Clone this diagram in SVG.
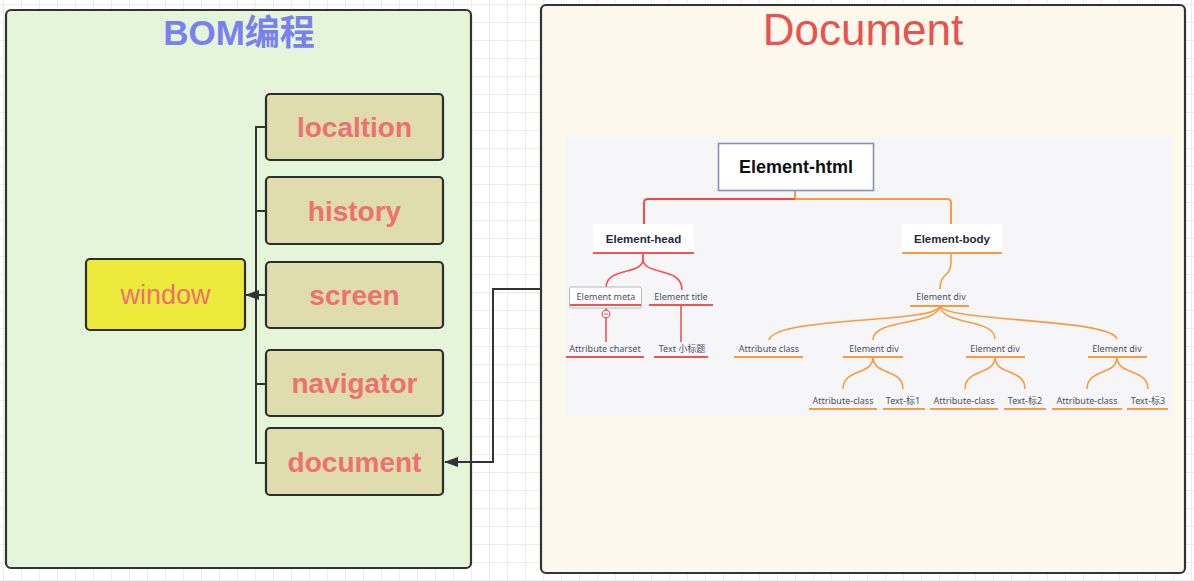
<svg xmlns="http://www.w3.org/2000/svg" width="1194" height="581" viewBox="0 0 1194 581">
<defs>
  <pattern id="grid" x="3" y="4" width="18" height="18" patternUnits="userSpaceOnUse">
    <path d="M0,0.5 H18 M0.5,0 V18" fill="none" stroke="#ececec" stroke-width="1.2"/>
  </pattern>
  <marker id="arr" markerWidth="14" markerHeight="10" refX="13" refY="5" orient="auto" markerUnits="userSpaceOnUse">
    <path d="M0,0 L14,5 L0,10 Z" fill="#333"/>
  </marker>
  <style>
    .panel{stroke:#333;stroke-width:2.2}
    .box{fill:#dfdcae;stroke:#2e2e2e;stroke-width:2.2}
    .lbl{font-family:"Liberation Sans",Arial,sans-serif;font-weight:bold;font-size:28px;fill:#ef7070;text-anchor:middle}
    .conn{fill:none;stroke:#333;stroke-width:2}
    .red{fill:none;stroke:#f25353;stroke-width:1.6}
    .org{fill:none;stroke:#fb9a3c;stroke-width:1.6}
    .mt{font-family:"Noto Sans","Liberation Sans","Noto Sans CJK SC",sans-serif;font-size:9px;fill:#4a4f63;text-anchor:middle}
    .mb{font-family:"Liberation Sans",Arial,sans-serif;font-weight:bold;font-size:11.5px;fill:#1f2740;text-anchor:middle}
    .ur{stroke:#f25353;stroke-width:1.8}
    .uo{stroke:#fb9a3c;stroke-width:1.8}
  </style>
</defs>
<rect width="1194" height="581" fill="#ffffff"/>
<rect width="1194" height="581" fill="url(#grid)"/>

<g id="bom-panel">
  <rect class="panel" x="6" y="10" width="465" height="558" rx="5" fill="#e4f5da"/>
  <text x="239" y="45" font-family="Liberation Sans,'Noto Sans CJK SC',sans-serif" font-weight="bold" font-size="35" fill="#7b80ef" text-anchor="middle">BOM编程</text>
</g>

<g id="document-panel">
  <rect class="panel" x="541" y="5" width="644" height="568" rx="5" fill="#fcf8eb"/>
  <text x="863" y="45" font-family="Liberation Sans,Arial,sans-serif" font-size="44" fill="#ea5250" text-anchor="middle">Document</text>
</g>

<g id="window">
  <rect x="86" y="259" width="159" height="71" rx="4" fill="#ecea3a" stroke="#2e2e2e" stroke-width="2.2"/>
  <text x="165.5" y="304" font-family="Liberation Sans,Arial,sans-serif" font-size="27" fill="#ef7070" text-anchor="middle">window</text>
</g>
<g id="localtion">
  <rect class="box" x="266" y="94" width="177" height="66" rx="4"/>
  <text class="lbl" x="354.5" y="137">localtion</text>
</g>
<g id="history">
  <rect class="box" x="266" y="177" width="177" height="67" rx="4"/>
  <text class="lbl" x="354.5" y="221">history</text>
</g>
<g id="screen">
  <rect class="box" x="266" y="262" width="177" height="66" rx="4"/>
  <text class="lbl" x="354.5" y="305">screen</text>
</g>
<g id="navigator">
  <rect class="box" x="266" y="350" width="177" height="66" rx="4"/>
  <text class="lbl" x="354.5" y="393">navigator</text>
</g>
<g id="document">
  <rect class="box" x="266" y="428" width="177" height="67" rx="4"/>
  <text class="lbl" x="354.5" y="472">document</text>
</g>

<g id="connectors">
  <path class="conn" d="M266,127 H256 V463 H266 M256,211 H266 M256,384 H266"/>
  <path class="conn" d="M266,295 H246" marker-end="url(#arr)"/>
  <path class="conn" d="M541,289 H493 V462 H445" marker-end="url(#arr)"/>
</g>

<g id="dom-tree">
  <rect x="565" y="137" width="607" height="279" fill="#f6f6f8"/>
  <path d="M795,191 V199" stroke="#fb9a3c" stroke-width="2" fill="none"/>
  <path d="M795,199 H648 Q644,199 644,203 V224" stroke="#f24848" stroke-width="2" fill="none"/>
  <path d="M795,199 H947 Q951,199 951,203 V224" stroke="#fb9a3c" stroke-width="2" fill="none"/>
  <path class="red" d="M643,253 V259 C643,276 606,266 606,288"/>
  <path class="red" d="M643,253 V259 C643,276 682,266 682,290"/>
  <path class="red" d="M606,308 V342"/>
  <path class="red" d="M681,305 V342"/>
  <path class="org" d="M951,253 V262 C951,278 940,272 940,289"/>
  <path class="org" d="M940,306 C936,324 775,316 769,340"/>
  <path class="org" d="M940,306 C937,326 873,318 873,340"/>
  <path class="org" d="M940,306 C943,326 995,318 995,339"/>
  <path class="org" d="M940,306 C946,322 1110,318 1117,339"/>
  <path class="org" d="M873,357 C873,376 843,368 843,389"/>
  <path class="org" d="M873,357 C873,376 903,368 903,389"/>
  <path class="org" d="M995,357 C995,376 965,368 965,389"/>
  <path class="org" d="M995,357 C995,376 1025,368 1025,389"/>
  <path class="org" d="M1117,357 C1117,376 1087,368 1087,389"/>
  <path class="org" d="M1117,357 C1117,376 1148,368 1148,389"/>

  <g id="element-html">
    <rect x="718.5" y="143.5" width="155" height="47" fill="#ffffff" stroke="#8592b0" stroke-width="1.6"/>
    <text x="796" y="173" font-family="Liberation Sans,Arial,sans-serif" font-weight="bold" font-size="18" fill="#111" text-anchor="middle">Element-html</text>
  </g>
  <g id="element-head">
    <rect x="593" y="224" width="101" height="29" fill="#ffffff"/>
    <line class="ur" x1="593" y1="253" x2="694" y2="253"/>
    <text class="mb" x="643.5" y="243">Element-head</text>
  </g>
  <g id="element-body">
    <rect x="902" y="224" width="100" height="29" fill="#ffffff"/>
    <line class="uo" x1="902" y1="253" x2="1002" y2="253"/>
    <text class="mb" x="952" y="243">Element-body</text>
  </g>
  <g id="element-meta">
    <rect x="569.5" y="287" width="72" height="21" rx="2" fill="#ffffff" stroke="#b8b8b8" stroke-width="1"/>
    <line class="ur" x1="570" y1="305" x2="641" y2="305"/>
    <text class="mt" x="606" y="300">Element meta</text>
    <circle cx="606" cy="314" r="3.8" fill="#ffffff" stroke="#f25353" stroke-width="1.2"/>
    <line x1="603.8" y1="314" x2="608.2" y2="314" stroke="#f25353" stroke-width="1"/>
  </g>
  <g id="element-title">
    <line class="ur" x1="649" y1="305" x2="713" y2="305"/>
    <text class="mt" x="681" y="300">Element title</text>
  </g>
  <g id="attribute-charset">
    <line class="ur" x1="566" y1="357" x2="644" y2="357"/>
    <text class="mt" x="605" y="352">Attribute charset</text>
  </g>
  <g id="text-title">
    <line class="ur" x1="654" y1="357" x2="708" y2="357"/>
    <text class="mt" x="682" y="352">Text 小标题</text>
  </g>
  <g id="element-div">
    <line class="uo" x1="910" y1="306" x2="969" y2="306"/>
    <text class="mt" x="941" y="300">Element div</text>
  </g>
  <g id="attribute-class">
    <line class="uo" x1="734" y1="357" x2="803" y2="357"/>
    <text class="mt" x="769" y="352">Attribute class</text>
  </g>
  <g id="element-div-1">
    <line class="uo" x1="843" y1="357" x2="903" y2="357"/>
    <text class="mt" x="874" y="352">Element div</text>
  </g>
  <g id="element-div-2">
    <line class="uo" x1="966" y1="357" x2="1025" y2="357"/>
    <text class="mt" x="995" y="352">Element div</text>
  </g>
  <g id="element-div-3">
    <line class="uo" x1="1088" y1="357" x2="1147" y2="357"/>
    <text class="mt" x="1117" y="352">Element div</text>
  </g>
  <g id="attribute-class-1">
    <line class="uo" x1="809" y1="409" x2="877" y2="409"/>
    <text class="mt" x="843" y="404">Attribute-class</text>
  </g>
  <g id="text-1">
    <line class="uo" x1="883" y1="409" x2="925" y2="409"/>
    <text class="mt" x="903" y="404">Text-标1</text>
  </g>
  <g id="attribute-class-2">
    <line class="uo" x1="930" y1="409" x2="998" y2="409"/>
    <text class="mt" x="964" y="404">Attribute-class</text>
  </g>
  <g id="text-2">
    <line class="uo" x1="1004" y1="409" x2="1046" y2="409"/>
    <text class="mt" x="1025" y="404">Text-标2</text>
  </g>
  <g id="attribute-class-3">
    <line class="uo" x1="1052" y1="409" x2="1122" y2="409"/>
    <text class="mt" x="1087" y="404">Attribute-class</text>
  </g>
  <g id="text-3">
    <line class="uo" x1="1127" y1="409" x2="1168" y2="409"/>
    <text class="mt" x="1148" y="404">Text-标3</text>
  </g>
</g>
</svg>
